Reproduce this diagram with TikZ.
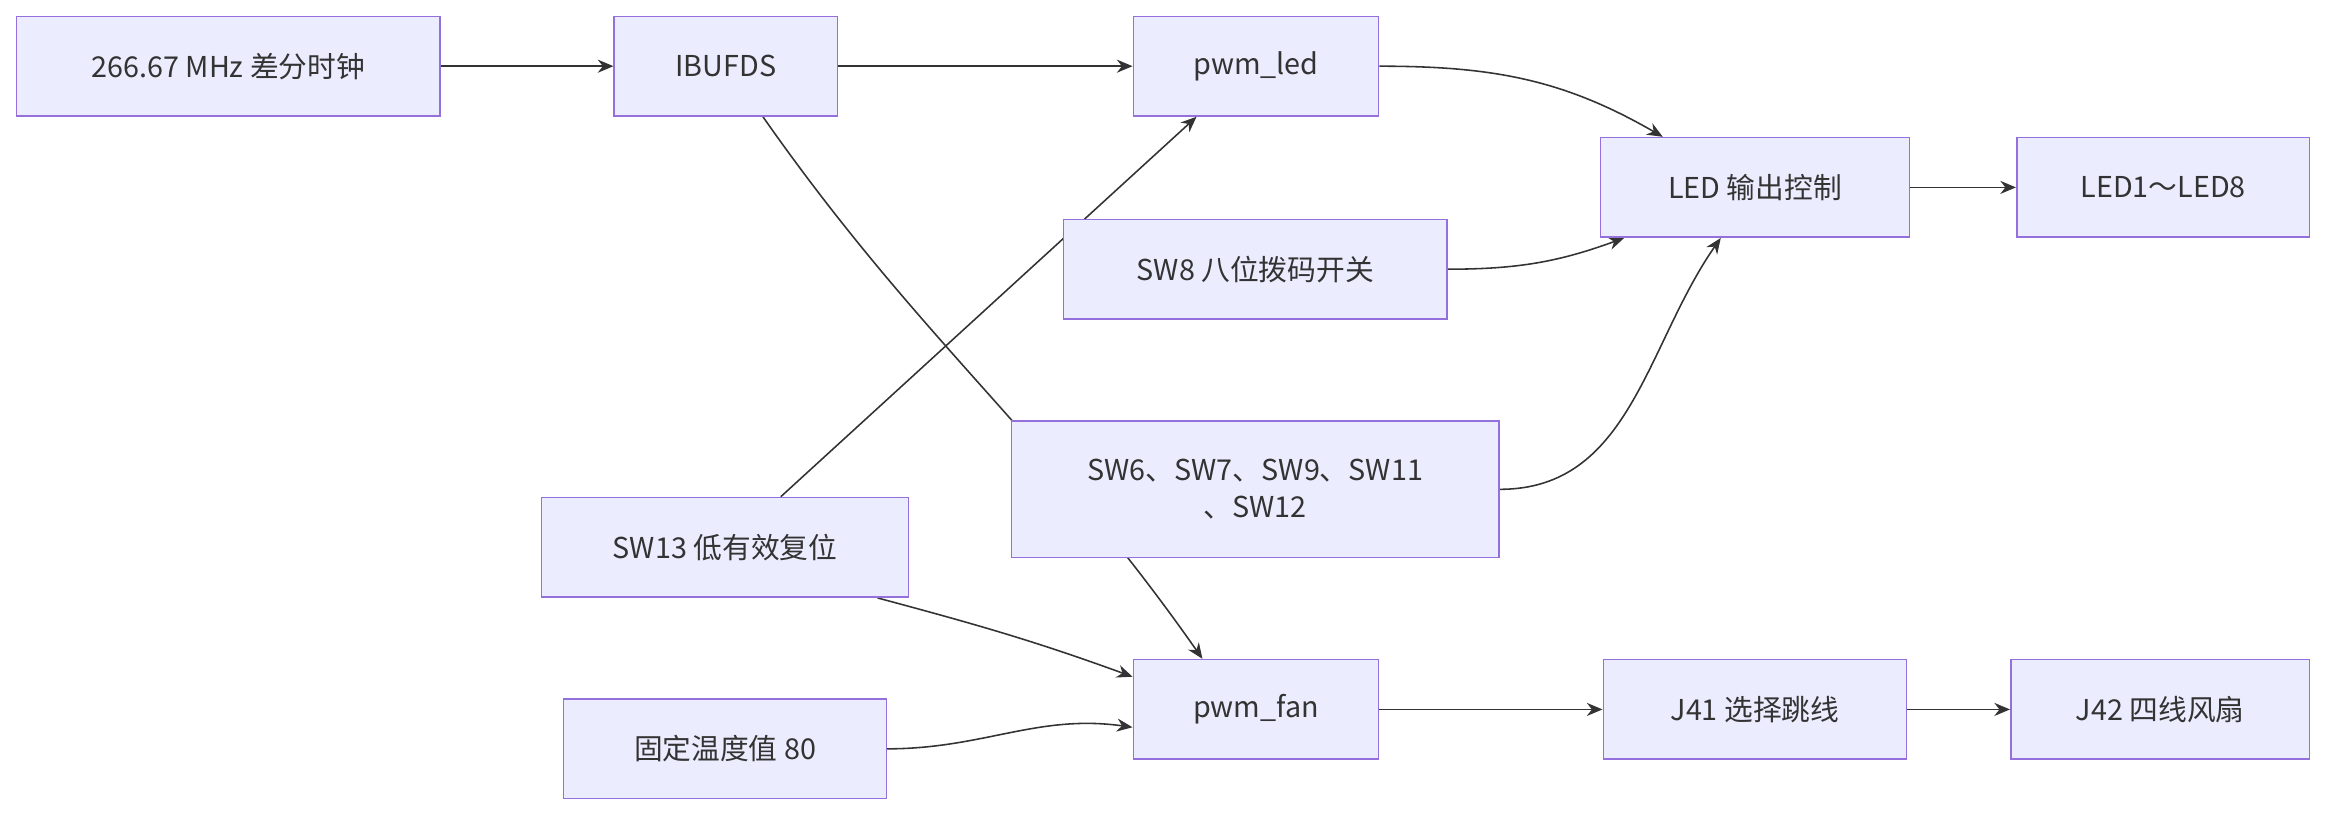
\documentclass[tikz,border=0pt]{standalone}
\usepackage{fontspec}
\setmainfont{Noto Sans CJK SC}
\usetikzlibrary{arrows.meta,backgrounds}
\definecolor{boxfill}{HTML}{ECECFF}
\definecolor{boxline}{HTML}{9370DB}
\definecolor{ink}{HTML}{333333}
\tikzset{
  blk/.style={draw=boxline, fill=boxfill, text=ink, line width=0.6pt,
    minimum height=1.34cm, inner sep=2pt, align=center,
    font=\fontsize{11}{14}\selectfont},
  link/.style={draw=ink, line width=0.6pt, -{Stealth[length=6pt,width=5pt]}}
}
\begin{document}
\begin{tikzpicture}[x=0.02cm, y=-0.02cm]
  \useasboundingbox (0,0) rectangle (1568,548);
  % upper row
  \node[blk, minimum width=5.70cm] (clk) at (153.5,44.5) {266.67 MHz 差分时钟};
  \node[blk, minimum width=3.00cm] (ibuf) at (488,44.5) {IBUFDS};
  \node[blk, minimum width=3.30cm] (pled) at (844.5,44.5) {pwm\_led};
  \node[blk, minimum width=4.16cm] (ledctl) at (1180,126) {LED 输出控制};
  \node[blk, minimum width=3.94cm] (leds) at (1454.5,126) {LED1～LED8};
  % switches
  \node[blk, minimum width=5.16cm] (sw8) at (844,181) {SW8 八位拨码开关};
  \node[blk, minimum width=6.56cm, minimum height=1.84cm] (swmode) at (844,329) {SW6、SW7、SW9、SW11\\、SW12};
  \node[blk, minimum width=4.94cm] (rst) at (487.5,368) {SW13 低有效复位};
  % lower row
  \node[blk, minimum width=3.30cm] (pfan) at (844.5,477) {pwm\_fan};
  \node[blk, minimum width=4.34cm] (temp) at (487.5,503.5) {固定温度值 80};
  \node[blk, minimum width=4.08cm] (j41) at (1180,477) {J41 选择跳线};
  \node[blk, minimum width=4.02cm] (j42) at (1452.5,477) {J42 四线风扇};

  \begin{scope}[on background layer]
    \draw[link] (clk) -- (ibuf);
    \draw[link] (ibuf) -- (pled);
    \draw[link] (pled.east) to[out=0, in=150] ([xshift=-1.24cm]ledctl.north);
    \draw[link] (sw8.east) to[out=0, in=200] ([xshift=-1.76cm]ledctl.south);
    \draw[link] (swmode.east) to[out=0, in=235] ([xshift=-0.46cm]ledctl.south);
    \draw[link] (ledctl) -- (leds);
    \draw[link] ([xshift=0.5cm]ibuf.south) to[out=-55, in=125] ([xshift=-0.72cm]pfan.north);
    \draw[link] ([xshift=0.75cm]rst.north) -- ([xshift=-0.80cm]pled.south);
    \draw[link] ([xshift=2.05cm]rst.south) to[out=-15, in=160] ([yshift=0.44cm]pfan.west);
    \draw[link] (temp.east) to[out=0, in=172] ([yshift=-0.24cm]pfan.west);
    \draw[link] (pfan) -- (j41);
    \draw[link] (j41) -- (j42);
  \end{scope}
\end{tikzpicture}
\end{document}
